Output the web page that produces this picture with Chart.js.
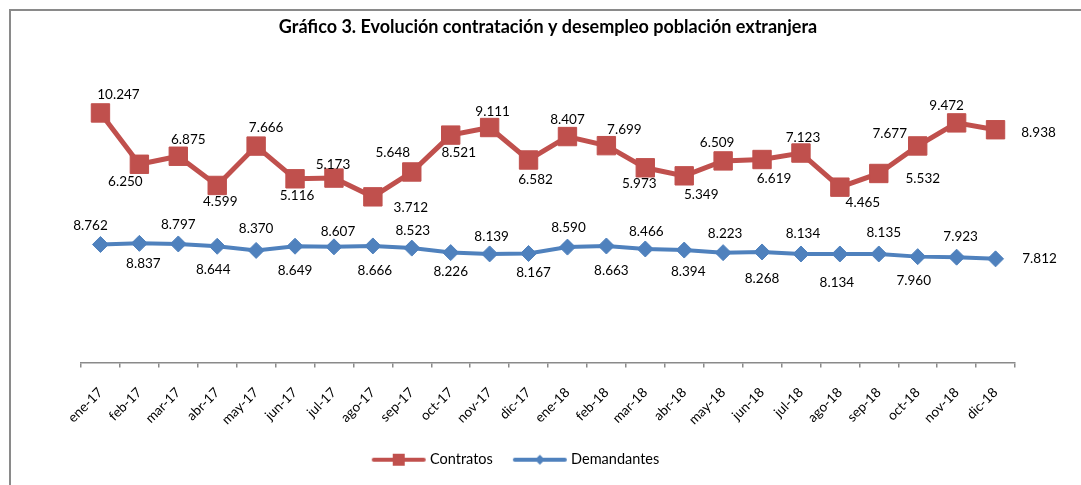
<!DOCTYPE html>
<html>
<head>
<meta charset="utf-8">
<script src="https://cdn.jsdelivr.net/npm/chart.js@4/dist/chart.umd.min.js"></script>
<style>
  html, body { margin: 0; padding: 0; background: #fff; }
  #wrap { position: relative; width: 1081px; height: 485px; overflow: hidden; }
  #frame { position: absolute; left: 9px; top: 9px; width: 1200px; height: 600px;
           border-top: 2px solid #8a8a8a; border-left: 2px solid #8a8a8a; box-sizing: border-box; }
  canvas { position: absolute; left: 0; top: 0; }
</style>
</head>
<body>
<div id="wrap">
  <div id="frame"></div>
  <canvas id="c" width="1081" height="485"></canvas>
</div>
<script>
// ---- data ----
const meses = ['ene-17','feb-17','mar-17','abr-17','may-17','jun-17','jul-17','ago-17','sep-17','oct-17','nov-17','dic-17',
               'ene-18','feb-18','mar-18','abr-18','may-18','jun-18','jul-18','ago-18','sep-18','oct-18','nov-18','dic-18'];
const contratos = [10.247, 6.250, 6.875, 4.599, 7.666, 5.116, 5.173, 3.712, 5.648, 8.521, 9.111, 6.582,
                   8.407, 7.699, 5.973, 5.349, 6.509, 6.619, 7.123, 4.465, 5.532, 7.677, 9.472, 8.938];
const demandantes = [8.762, 8.837, 8.797, 8.644, 8.370, 8.649, 8.607, 8.666, 8.523, 8.226, 8.139, 8.167,
                     8.590, 8.663, 8.466, 8.394, 8.223, 8.268, 8.134, 8.134, 8.135, 7.960, 7.923, 7.812];
const tituloGrafico = 'Gráfico 3. Evolución contratación y desempleo población extranjera';
const nombresSeries = ['Contratos', 'Demandantes'];

// ---- label placement (style: offsets in px relative to each point) ----
const offContratos = [[18,-18],[-14,17],[10,-17],[3,16],[10,-18],[2,17],[-1,-13],[38,11],[-19,-19],[8,18],[3,-16],[7,20],
                      [0,-17],[18,-16],[-6,16],[17,19],[-6,-18],[12,19],[2,-15],[23,15],[44,5],[-28,-12],[-10,-17],[43,3]];
const offDemandantes = [[-10,-19],[4,20],[0,-19],[-4,23],[0,-22],[0,24],[4,-15],[2,25],[1,-17],[0,19],[2,-17],[5,19],
                        [1,-19],[5,25],[1,-17],[4,22],[2,-19],[0,27],[2,-20],[-3,29],[5,-21],[-4,24],[4,-21],[44,0]];

const FONT = 'Lato, "Liberation Sans", sans-serif';
const ROJO = '#C0504D', AZUL = '#4F81BD';

function fmt(v) { return v.toFixed(3); }

function legendIcon(color, shape) {
  const c = document.createElement('canvas');
  c.width = 56; c.height = 16;
  const g = c.getContext('2d');
  g.strokeStyle = color; g.fillStyle = color; g.lineWidth = 4; g.lineCap = 'round';
  g.beginPath(); g.moveTo(3, 8); g.lineTo(53, 8); g.stroke();
  g.beginPath();
  if (shape === 'rect') { g.rect(22, 2, 12, 12); }
  else { g.moveTo(28, 3); g.lineTo(33, 8); g.lineTo(28, 13); g.lineTo(23, 8); g.closePath(); }
  g.fill();
  return c;
}

const dataLabels = {
  id: 'dataLabels',
  afterDatasetsDraw(chart) {
    const ctx = chart.ctx;
    ctx.save();
    ctx.font = '13.5px ' + FONT;
    ctx.fillStyle = '#000';
    ctx.textAlign = 'center';
    ctx.textBaseline = 'middle';
    const offs = [offContratos, offDemandantes];
    chart.data.datasets.forEach((ds, di) => {
      const meta = chart.getDatasetMeta(di);
      meta.data.forEach((pt, i) => {
        const o = offs[di][i];
        ctx.fillText(fmt(ds.data[i]), pt.x + o[0], pt.y + o[1]);
      });
    });
    ctx.restore();
  }
};

const hiddenAxis = (pos, w, min, max) => ({
  display: true, position: pos, min, max,
  grid: { display: false }, border: { display: false }, ticks: { display: false },
  afterFit(scale) { scale.width = w; }
});

new Chart(document.getElementById('c'), {
  type: 'line',
  data: {
    labels: meses,
    datasets: [
      { label: nombresSeries[0], data: contratos, yAxisID: 'y',
        borderColor: ROJO, backgroundColor: ROJO, borderWidth: 5,
        pointStyle: 'rect', pointRadius: 13, pointBorderWidth: 1,
        pointBackgroundColor: ROJO, pointBorderColor: ROJO, tension: 0 },
      { label: nombresSeries[1], data: demandantes, yAxisID: 'y2',
        borderColor: AZUL, backgroundColor: AZUL, borderWidth: 4,
        pointStyle: 'rectRot', pointRadius: 8, pointBorderWidth: 1,
        pointBackgroundColor: AZUL, pointBorderColor: AZUL, tension: 0 }
    ]
  },
  options: {
    responsive: false,
    animation: false,
    devicePixelRatio: 1,
    layout: { padding: { left: 0, right: 47, top: 0, bottom: 8 } },
    plugins: {
      title: { display: true, fullSize: false, text: tituloGrafico, color: '#000',
               font: { family: FONT, size: 18, weight: 'bold' },
               padding: { top: 16, bottom: 22.4 } },
      legend: {
        position: 'bottom', fullSize: true,
        labels: {
          usePointStyle: true, pointStyleWidth: 48, padding: 23,
          color: '#000', font: { family: FONT, size: 14.5 },
          generateLabels(chart) {
            return chart.data.datasets.map((ds, i) => ({
              text: ds.label, datasetIndex: i, fontColor: '#000',
              pointStyle: legendIcon(ds.borderColor, i === 0 ? 'rect' : 'diamond'),
              fillStyle: ds.borderColor, strokeStyle: ds.borderColor, lineWidth: 0, hidden: false
            }));
          }
        }
      },
      tooltip: { enabled: false }
    },
    scales: {
      x: {
        type: 'category', offset: true,
        grid: { display: true, drawOnChartArea: false, offset: true, tickLength: 5, color: '#8a8a8a', lineWidth: 1.5 },
        border: { display: true, color: '#8a8a8a', width: 1.5 },
        ticks: { maxRotation: 45, minRotation: 45, autoSkip: false, color: '#000', padding: 17,
                 font: { family: FONT, size: 13.5 } },
        afterFit(scale) { scale.height = 67; }
      },
      y:  hiddenAxis('left', 81, -9.19, 14.37),
      y2: hiddenAxis('right', 19, 0.96, 20.96)
    }
  },
  plugins: [dataLabels]
});
</script>
</body>
</html>
